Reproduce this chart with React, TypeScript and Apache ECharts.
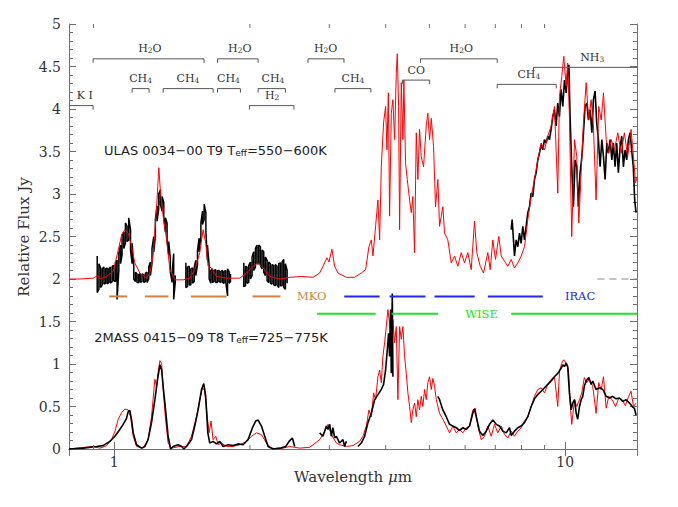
import React, { useEffect, useRef } from 'react';
import * as echarts from 'echarts';

// ---------- axis ranges / ticks ----------
const X_MIN = 0.794;
const X_MAX = 14.43;
const Y_MIN = 0;
const Y_MAX = 5;
const xMinorTicks = [0.9, 2, 3, 4, 5, 6, 7, 8, 9];

// ---------- ULAS 0034-00 (offset +2) ----------
const ulasModel: number[][] = [
  [0.794,2.00],[0.840,2.00],[0.898,2.01],[0.920,2.04],[0.930,2.00],[0.962,2.03],[0.995,2.09],[1.021,2.34],[1.039,2.52],[1.056,2.58],
  [1.074,2.54],[1.093,2.38],[1.111,2.19],[1.140,2.07],[1.180,2.01],[1.200,2.07],[1.220,2.27],[1.242,2.85],[1.256,3.31],[1.267,3.01],
  [1.284,2.74],[1.307,2.46],[1.329,2.11],[1.363,1.99],[1.422,1.99],[1.471,2.01],[1.509,2.11],[1.548,2.31],[1.575,2.58],[1.596,2.42],
  [1.615,2.15],[1.643,2.13],[1.686,2.03],[1.774,2.01],[1.899,2.01],[1.965,2.07],[2.032,2.15],[2.085,2.19],[2.138,2.13],[2.213,2.03],
  [2.328,2.00],[2.450,2.02],[2.601,2.03],[2.759,2.02],[2.855,2.07],[2.929,2.19],[2.963,2.25],[2.994,2.20],[3.040,2.35],[3.082,2.15],
  [3.135,2.07],[3.272,2.02],[3.413,2.02],[3.532,2.07],[3.610,2.11],[3.672,2.38],[3.717,2.46],[3.747,2.27],[3.799,2.62],[3.844,2.93],
  [3.878,2.46],[3.911,3.32],[3.957,3.84],[3.998,4.03],[4.025,3.52],[4.054,4.19],[4.080,2.74],[4.116,3.95],[4.150,4.11],[4.186,3.64],
  [4.222,4.42],[4.244,4.65],[4.272,4.03],[4.294,2.58],[4.331,4.31],[4.367,3.64],[4.389,4.34],[4.427,3.36],[4.466,3.17],[4.519,2.93],
  [4.558,2.78],[4.595,2.97],[4.635,2.31],[4.676,3.72],[4.714,3.17],[4.755,3.76],[4.796,3.44],[4.853,3.32],[4.920,3.80],[4.960,3.95],
  [5.004,3.64],[5.047,3.89],[5.107,3.56],[5.159,2.85],[5.220,3.17],[5.266,2.62],[5.355,2.85],[5.402,2.54],[5.493,2.46],[5.590,2.19],
  [5.684,2.27],[5.781,2.15],[5.882,2.31],[5.982,2.19],[6.084,2.31],[6.190,2.11],[6.295,2.68],[6.370,2.31],[6.481,2.15],[6.591,2.07],
  [6.737,2.31],[6.820,2.11],[6.911,2.46],[7.007,2.23],[7.126,2.50],[7.214,2.27],[7.336,2.21],[7.461,2.15],[7.591,2.23],[7.720,2.13],
  [7.851,2.19],[7.989,2.27],[8.125,2.38],[8.263,2.70],[8.407,2.97],[8.550,3.17],[8.695,3.40],[8.847,3.60],[8.997,3.52],[9.150,3.68],
  [9.310,3.80],[9.468,4.03],[9.629,3.01],[9.713,4.15],[9.828,4.38],[9.929,4.62],[10.05,4.27],[10.13,4.54],[10.22,3.91],[10.34,2.50],
  [10.49,3.64],[10.61,3.44],[10.72,2.66],[10.85,3.25],[10.98,3.84],[11.13,4.31],[11.28,3.87],[11.42,4.11],[11.55,3.80],[11.71,2.93],
  [11.87,4.03],[12.02,3.87],[12.16,4.19],[12.33,3.64],[12.49,3.48],[12.65,3.64],[12.86,3.52],[13.08,3.72],[13.31,3.48],[13.53,3.72],
  [13.76,3.44],[14.00,3.76],[14.17,3.44],[14.32,3.13],[14.43,3.20],
];

const ulasObsYJ: number[][] = [
  [0.917,2.27,1.84],[0.925,2.18,1.88],[0.933,2.13,1.90],[0.941,2.12,1.93],[0.949,2.14,1.94],[0.957,2.12,1.95],[0.965,2.13,1.94],
  [0.973,2.12,1.96],[0.981,2.14,1.95],[0.990,2.15,1.97],[0.998,2.16,1.98],[1.007,2.20,1.97],[1.015,2.22,1.76],[1.024,2.30,2.10],
  [1.033,2.40,2.18],[1.041,2.52,2.28],[1.050,2.55,2.36],[1.059,2.66,2.42],[1.068,2.62,2.44],[1.077,2.72,2.46],[1.087,2.58,2.34],
  [1.096,2.42,2.18],[1.105,2.16,2.00],[1.115,2.08,1.97],[1.124,2.06,1.96],[1.134,2.06,1.96],[1.143,2.05,1.96],[1.153,2.06,1.97],
  [1.163,2.05,1.96],[1.173,2.07,1.97],[1.183,2.08,1.96],[1.193,2.14,2.00],[1.203,2.20,2.04],[1.213,2.36,2.18],[1.224,2.50,2.32],
  [1.234,2.70,2.50],[1.245,2.86,2.68],[1.255,3.00,2.82],[1.266,3.05,2.88],[1.277,2.97,2.80],[1.288,2.90,2.72],[1.299,2.72,2.55],
  [1.310,2.66,2.46],[1.321,2.44,2.28],[1.332,2.24,2.08],[1.344,2.06,1.96],[1.355,2.30,1.76],[1.366,2.04,1.96],
];
const ulasObsH: number[][] = [
  [1.442,2.19,1.90],[1.454,2.14,1.91],[1.467,2.15,1.93],[1.479,2.12,1.93],[1.492,2.13,1.95],[1.505,2.14,1.97],[1.517,2.22,2.04],
  [1.530,2.33,2.16],[1.543,2.48,2.32],[1.557,2.66,2.50],[1.570,2.80,2.64],[1.583,2.88,2.70],[1.597,2.78,2.56],[1.610,2.40,2.22],
  [1.624,2.16,2.00],[1.638,2.10,1.95],[1.652,2.12,1.96],[1.666,2.10,1.97],[1.680,2.11,1.96],[1.695,2.10,1.96],[1.709,2.10,1.97],
  [1.724,2.09,1.96],[1.739,2.10,1.96],[1.753,2.09,1.95],[1.768,2.10,1.96],[1.784,2.12,1.80],[1.799,2.08,1.95],[1.811,2.06,1.97],
];
const ulasObsK: number[][] = [
  [1.938,2.19,1.91],[1.955,2.15,1.92],[1.971,2.14,1.95],[1.988,2.16,1.96],[2.005,2.20,2.00],[2.022,2.26,2.04],[2.039,2.32,2.10],
  [2.057,2.36,2.14],[2.074,2.40,2.18],[2.092,2.40,2.18],[2.110,2.38,2.16],[2.128,2.34,2.12],[2.146,2.32,2.08],[2.164,2.26,2.04],
  [2.183,2.22,1.98],[2.201,2.20,1.96],[2.220,2.18,1.95],[2.239,2.17,1.94],[2.258,2.16,1.93],[2.278,2.17,1.92],[2.297,2.15,1.93],
  [2.317,2.18,1.90],[2.337,2.19,1.92],[2.357,2.20,1.92],[2.377,2.23,1.90],[2.397,2.18,1.88],[2.418,2.10,1.95],
];
const ulasObsMir: number[][] = [
  [7.590,2.58],[7.629,2.70],[7.720,2.27],[7.786,2.46],[7.853,2.38],[7.920,2.54],[7.987,2.42],[8.055,2.62],[8.124,2.46],[8.193,2.62],
  [8.263,2.78],[8.334,2.85],[8.405,3.01],[8.476,2.97],[8.549,3.17],[8.622,3.25],[8.695,3.40],[8.770,3.48],[8.845,3.58],[8.920,3.52],
  [8.996,3.64],[9.073,3.60],[9.150,3.68],[9.228,3.64],[9.307,3.76],[9.386,3.91],[9.466,3.99],[9.547,3.80],[9.628,4.07],[9.711,3.91],
  [9.794,4.23],[9.880,4.03],[9.964,4.34],[10.05,4.19],[10.14,4.46],[10.19,4.52],[10.26,3.87],[10.34,3.32],[10.43,2.85],[10.52,3.40],
  [10.61,3.32],[10.70,2.85],[10.79,3.25],[10.89,3.44],[10.98,3.72],[11.07,4.03],[11.17,4.07],[11.26,3.87],[11.36,3.99],[11.46,3.72],
  [11.55,4.11],[11.65,4.21],[11.75,3.83],[11.85,3.64],[11.95,3.32],[12.06,3.64],[12.16,3.44],[12.26,3.17],[12.37,3.60],[12.47,3.48],
  [12.58,3.64],[12.69,3.40],[12.79,3.60],[12.90,3.32],[13.01,3.60],[13.12,3.25],[13.24,3.56],[13.35,3.68],[13.46,3.32],[13.58,3.52],
  [13.69,3.40],[13.81,3.64],[13.93,3.72],[14.04,3.52],[14.16,3.32],[14.26,2.93],[14.36,2.78],
];
const ulasZeroLevel: number[][] = [[11.79,2],[14.43,2]];

// ---------- 2MASS 0415-09 ----------
const bdModel: number[][] = [
  [0.794,0.00],[0.898,0.03],[0.930,0.01],[0.962,0.04],[0.987,0.11],[1.004,0.21],[1.021,0.35],[1.039,0.43],[1.056,0.47],[1.074,0.46],
  [1.087,0.38],[1.102,0.15],[1.121,0.03],[1.159,0.01],[1.189,0.11],[1.210,0.38],[1.231,0.82],[1.242,0.74],[1.252,0.91],[1.263,1.04],
  [1.274,1.01],[1.284,0.70],[1.300,0.35],[1.317,0.07],[1.340,0.01],[1.398,0.03],[1.447,0.03],[1.484,0.15],[1.522,0.38],[1.548,0.58],
  [1.570,0.72],[1.586,0.69],[1.602,0.46],[1.624,0.19],[1.640,0.33],[1.657,0.11],[1.680,0.15],[1.700,0.05],[1.729,0.07],[1.774,0.03],
  [1.835,0.03],[1.899,0.05],[1.965,0.09],[2.016,0.15],[2.068,0.19],[2.121,0.17],[2.176,0.07],[2.232,0.01],[2.328,0.00],[2.450,0.03],
  [2.578,0.01],[2.714,0.02],[2.855,0.11],[2.929,0.21],[2.979,0.29],[3.031,0.17],[3.109,0.07],[3.162,0.05],[3.272,0.03],[3.384,0.04],
  [3.502,0.09],[3.561,0.15],[3.623,0.27],[3.672,0.46],[3.717,0.38],[3.761,0.66],[3.799,0.58],[3.844,0.85],[3.878,0.93],[3.911,0.78],
  [3.943,1.09],[3.978,1.25],[4.012,1.44],[4.045,1.64],[4.080,1.48],[4.116,1.29],[4.150,1.52],[4.186,1.25],[4.222,1.44],[4.257,0.58],
  [4.294,1.44],[4.331,1.29],[4.367,1.44],[4.405,1.09],[4.443,0.89],[4.480,0.66],[4.519,0.50],[4.558,0.31],[4.595,0.46],[4.635,0.54],
  [4.676,0.38],[4.714,0.58],[4.755,0.46],[4.796,0.62],[4.836,0.50],[4.878,0.70],[4.920,0.58],[4.960,0.78],[5.004,0.85],[5.047,0.70],
  [5.089,0.83],[5.133,0.74],[5.178,0.58],[5.266,0.42],[5.355,0.35],[5.449,0.27],[5.542,0.19],[5.636,0.27],[5.734,0.19],[5.834,0.23],
  [5.932,0.19],[6.034,0.25],[6.137,0.27],[6.241,0.46],[6.318,0.48],[6.402,0.27],[6.514,0.11],[6.625,0.15],[6.737,0.27],[6.855,0.15],
  [6.971,0.29],[7.090,0.19],[7.214,0.27],[7.336,0.17],[7.461,0.13],[7.591,0.21],[7.720,0.15],[7.851,0.21],[7.989,0.25],[8.125,0.33],
  [8.263,0.38],[8.407,0.50],[8.550,0.62],[8.695,0.70],[8.847,0.72],[8.997,0.66],[9.150,0.76],[9.310,0.82],[9.468,0.85],[9.629,0.50],
  [9.713,0.91],[9.828,1.01],[9.929,1.05],[10.05,1.01],[10.17,0.93],[10.26,0.54],[10.34,0.29],[10.49,0.58],[10.61,0.50],[10.76,0.58],
  [10.88,0.66],[11.03,0.84],[11.16,0.78],[11.32,0.82],[11.51,0.74],[11.71,0.42],[11.87,0.78],[12.02,0.70],[12.16,0.85],[12.33,0.48],
  [12.49,0.62],[12.71,0.58],[12.93,0.50],[13.15,0.60],[13.38,0.58],[13.60,0.51],[13.83,0.62],[14.00,0.68],[14.17,0.50],[14.36,0.54],
];
const bdObsNir: number[][] = [
  [0.794,0.00],[0.854,0.01],[0.914,0.03],[0.945,0.04],[0.978,0.09],[1.004,0.15],[1.029,0.23],[1.047,0.29],[1.065,0.36],[1.074,0.44],
  [1.083,0.455],[1.093,0.34],[1.102,0.19],[1.121,0.05],[1.150,0.01],[1.170,0.03],[1.189,0.11],[1.210,0.31],[1.231,0.58],[1.248,0.82],
  [1.263,0.99],[1.274,0.93],[1.284,0.74],[1.300,0.46],[1.317,0.15],[1.334,0.00],[1.351,0.03],[1.386,0.05],[1.411,0.03],[1.427,0.00],
  [1.447,0.03],[1.484,0.11],[1.509,0.27],[1.535,0.46],[1.562,0.70],[1.580,0.77],[1.596,0.62],[1.613,0.19],[1.629,0.07],[1.657,0.09],
  [1.686,0.06],[1.715,0.09],[1.744,0.03],[1.789,0.05],[1.835,0.04],[1.883,0.06],[1.931,0.05],[1.981,0.11],[2.026,0.25],[2.060,0.33],
  [2.085,0.34],[2.121,0.27],[2.157,0.15],[2.194,0.03],[2.250,0.00],[2.328,0.01],[2.401,0.03],[2.442,0.09],[2.484,0.13],[2.514,0.03],
];
const bdObs3a: number[][] = [
  [2.855,0.19],[2.904,0.15],[2.955,0.27],[2.979,0.23],[3.005,0.29],[3.031,0.15],[3.055,0.25],[3.082,0.13],[3.109,0.15],[3.162,0.07],
  [3.216,0.11],[3.244,0.03],[3.272,0.09],
];
const bdObs3b: number[][] = [
  [3.471,0.03],[3.532,0.07],[3.592,0.15],[3.653,0.31],[3.717,0.42],[3.780,0.58],[3.844,0.64],[3.911,0.70],[3.957,0.76],[3.998,0.93],
  [4.033,1.17],[4.060,1.36],[4.080,1.09],[4.101,1.64],[4.116,0.89],[4.137,1.83],[4.150,0.85],
];
const bdObsMir: number[][] = [
  [5.220,0.62],[5.266,0.58],[5.355,0.46],[5.449,0.38],[5.542,0.29],[5.636,0.27],[5.734,0.25],[5.834,0.22],[5.932,0.25],[6.034,0.23],
  [6.137,0.27],[6.241,0.42],[6.295,0.47],[6.351,0.38],[6.458,0.21],[6.568,0.16],[6.682,0.21],[6.796,0.29],[6.911,0.34],[7.032,0.29],
  [7.151,0.27],[7.273,0.21],[7.400,0.19],[7.526,0.25],[7.591,0.16],[7.720,0.21],[7.851,0.25],[7.989,0.27],[8.125,0.31],[8.263,0.38],
  [8.407,0.50],[8.550,0.59],[8.695,0.64],[8.847,0.68],[8.997,0.72],[9.150,0.76],[9.310,0.80],[9.468,0.85],[9.629,0.89],[9.798,0.95],
  [9.878,0.99],[9.964,0.97],[10.05,1.01],[10.13,0.97],[10.22,0.66],[10.31,0.46],[10.39,0.54],[10.49,0.58],[10.58,0.42],[10.66,0.35],
  [10.76,0.50],[10.85,0.58],[10.94,0.62],[11.03,0.74],[11.13,0.80],[11.28,0.84],[11.42,0.76],[11.51,0.80],[11.71,0.70],[11.91,0.72],
  [12.12,0.70],[12.33,0.62],[12.54,0.60],[12.75,0.62],[12.97,0.59],[13.19,0.60],[13.42,0.56],[13.65,0.58],[13.89,0.54],[14.12,0.49],
  [14.24,0.48],[14.36,0.40],
];

// ---------- molecular band markers ----------
const bandNames = ['K I','H2O','H2O','H2O','CH4','CH4','CH4','CH4','H2','CH4','CO','H2O','CH4','NH3'];
const bandStart = [0.794,0.898,1.695,2.690,1.096,1.284,1.695,2.085,1.995,3.087,4.355,4.779,7.068,8.506];
const bandEnd   = [0.898,1.582,2.085,3.233,1.195,1.657,1.905,2.397,2.504,3.709,5.004,7.068,9.552,14.43];
const bandLevel = [4.04,4.59,4.59,4.59,4.24,4.24,4.24,4.24,4.04,4.24,4.34,4.59,4.29,4.49];
const bandLabelAt = [0.861,1.200,1.899,2.944,1.144,1.457,1.792,2.250,2.239,3.384,4.676,5.882,8.304,11.48];
const bandEnds = ['right','both','both','both','both','both','both','both','both','both','both','both','both','left'];

// ---------- filter bandpasses ----------
const filterNames = ['MKO','IRAC','WISE'];
const filterLevel = [1.795,1.795,1.59];
const filterLabelAt = [2.742,10.79,6.524];
const mkoBands = [[0.975,1.069],[1.170,1.319],[1.479,1.774],[2.026,2.337]];
const iracBands = [[3.237,3.877],[4.08,4.90],[5.13,6.30],[6.74,8.92]];
const wiseBands = [[2.817,3.80],[4.12,5.23],[7.59,16]];

// ---------- object labels ----------
const objectNames = ['ULAS 0034−00 T9 T','2MASS 0415−09 T8 T'];
const objectTeff = ['550−600K','725−775K'];
const objectAt = [[0.949,3.51],[0.903,1.31]];

const AXIS = '#707070';
const TEXT = '#333';
const FILTER_COLORS = ['#d8803e', '#2424ff', '#22e022'];

// noise band rows [λ, upper, lower] -> a trace that alternates between them
function bandTrace(rows: number[][]) {
  const out: number[][] = [];
  rows.forEach((r, i) => {
    if (i % 2 === 0) {
      out.push([r[0], r[1]], [r[0], r[2]]);
    } else {
      out.push([r[0], r[2]], [r[0], r[1]]);
    }
  });
  return out;
}

function richName(name: string) {
  let out = '';
  let buf = '';
  let isSub = false;
  for (const ch of name) {
    const sub = /[0-9]/.test(ch);
    if (buf && sub !== isSub) {
      out += `{${isSub ? 's' : 'm'}|${buf}}`;
      buf = '';
    }
    isSub = sub;
    buf += ch;
  }
  if (buf) out += `{${isSub ? 's' : 'm'}|${buf}}`;
  return out;
}

const bandRich = {
  m: { fontFamily: 'DejaVu Serif', fontSize: 11, fill: TEXT, lineHeight: 12 },
  s: { fontFamily: 'DejaVu Serif', fontSize: 7.5, fill: TEXT, lineHeight: 8, padding: [9, 0, 0, 0], verticalAlign: 'bottom' },
};

function lineSeries(data: number[][], color: string, width: number, z: number) {
  return {
    type: 'line',
    data,
    showSymbol: false,
    symbol: 'none',
    silent: true,
    z,
    lineStyle: { color, width },
  };
}

export default function App() {
  const ref = useRef<HTMLDivElement>(null);
  useEffect(() => {
    const chart = echarts.init(ref.current as HTMLDivElement, null, { renderer: 'svg' });

    const filterData: number[][] = [];
    [mkoBands, iracBands, wiseBands].forEach((bands, g) => {
      bands.forEach((b) => filterData.push([b[0], filterLevel[g], b[1], g]));
    });

    const xAxisBase = {
      type: 'log',
      logBase: 10,
      min: X_MIN,
      max: X_MAX,
      gridIndex: 0,
      splitLine: { show: false },
      axisLine: { show: true, lineStyle: { color: AXIS, width: 1 } },
      axisTick: { show: true, inside: true, length: 7, lineStyle: { color: AXIS } },
    };
    const yAxisBase = {
      type: 'value',
      min: Y_MIN,
      max: Y_MAX,
      interval: 0.5,
      splitLine: { show: false },
      axisLine: { show: true, lineStyle: { color: AXIS, width: 1 } },
      axisTick: { show: true, inside: true, length: 7, lineStyle: { color: AXIS } },
      minorTick: { show: true, splitNumber: 5, length: 4, lineStyle: { color: AXIS } },
    };

    const option: any = {
      animation: false,
      backgroundColor: '#fff',
      grid: { left: 69, right: 41, top: 24, bottom: 58, containLabel: false },
      xAxis: [
        {
          ...xAxisBase,
          position: 'bottom',
          axisLabel: {
            show: true,
            showMinLabel: false,
            showMaxLabel: false,
            margin: 6,
            fontFamily: 'DejaVu Serif',
            fontSize: 14,
            color: TEXT,
            formatter: (v: number) => (Math.abs(v - 1) < 1e-6 ? '1' : Math.abs(v - 10) < 1e-6 ? '10' : ''),
          },
        },
        { ...xAxisBase, position: 'top', axisLabel: { show: false } },
      ],
      yAxis: [
        {
          ...yAxisBase,
          position: 'left',
          axisLabel: { show: true, margin: 8, fontFamily: 'DejaVu Serif', fontSize: 14, color: TEXT },
        },
        { ...yAxisBase, position: 'right', axisLabel: { show: false } },
      ],
      graphic: [
        {
          type: 'text',
          x: 353,
          y: 477,
          style: {
            text: '{n|Wavelength }{i|μ}{n|m}',
            align: 'center',
            verticalAlign: 'middle',
            rich: {
              n: { fontFamily: 'DejaVu Serif', fontSize: 15, fill: TEXT },
              i: { fontFamily: 'DejaVu Serif', fontSize: 15, fontStyle: 'italic', fill: TEXT },
            },
          },
        },
        {
          type: 'text',
          x: 24,
          y: 237,
          rotation: Math.PI / 2,
          style: {
            text: 'Relative Flux Jy',
            align: 'center',
            verticalAlign: 'middle',
            fontFamily: 'DejaVu Serif',
            fontSize: 15,
            fill: TEXT,
          },
        },
      ],
      series: [
        // minor ticks of the log axis (top and bottom)
        {
          type: 'custom',
          silent: true,
          clip: false,
          z: 5,
          data: xMinorTicks.map((v) => [v, 0]),
          renderItem: (params: any, api: any) => {
            const cs = params.coordSys;
            const x = api.coord([api.value(0), 0])[0];
            const top = cs.y;
            const bottom = cs.y + cs.height;
            return {
              type: 'group',
              children: [
                { type: 'line', shape: { x1: x, y1: bottom, x2: x, y2: bottom - 4 }, style: { stroke: AXIS, lineWidth: 1 } },
                { type: 'line', shape: { x1: x, y1: top, x2: x, y2: top + 4 }, style: { stroke: AXIS, lineWidth: 1 } },
              ],
            };
          },
        },
        // spectra
        lineSeries(bdModel, '#ff0000', 1, 2),
        lineSeries(bdObsNir, '#000000', 1.6, 3),
        lineSeries(bdObs3a, '#000000', 1.6, 3),
        lineSeries(bdObs3b, '#000000', 1.6, 3),
        lineSeries(bdObsMir, '#000000', 1.6, 3),
        lineSeries(bandTrace(ulasObsYJ), '#000000', 1.5, 2),
        lineSeries(bandTrace(ulasObsH), '#000000', 1.5, 2),
        lineSeries(bandTrace(ulasObsK), '#000000', 1.5, 2),
        lineSeries(ulasObsMir, '#000000', 1.6, 2),
        lineSeries(ulasModel, '#ff0000', 1, 3),
        {
          ...lineSeries(ulasZeroLevel, '#8a8a8a', 1.2, 2),
          lineStyle: { color: '#8a8a8a', width: 1.2, type: [7, 5] },
        },
        // filter bandpasses
        {
          type: 'custom',
          silent: true,
          clip: false,
          z: 4,
          data: filterData,
          renderItem: (params: any, api: any) => {
            const cs = params.coordSys;
            const p1 = api.coord([api.value(0), api.value(1)]);
            const p2 = api.coord([api.value(2), api.value(1)]);
            const x2 = Math.min(p2[0], cs.x + cs.width);
            return {
              type: 'line',
              shape: { x1: p1[0], y1: p1[1], x2, y2: p1[1] },
              style: { stroke: FILTER_COLORS[api.value(3)], lineWidth: 2 },
            };
          },
        },
        // filter labels
        {
          type: 'custom',
          silent: true,
          clip: false,
          z: 4,
          data: filterNames.map((_, i) => [filterLabelAt[i], filterLevel[i], i]),
          renderItem: (params: any, api: any) => {
            const i = api.value(2);
            const p = api.coord([api.value(0), api.value(1)]);
            return {
              type: 'text',
              x: p[0],
              y: p[1],
              style: {
                text: filterNames[i],
                align: 'center',
                verticalAlign: 'middle',
                fontFamily: 'DejaVu Serif',
                fontSize: 11.5,
                fill: FILTER_COLORS[i],
              },
            };
          },
        },
        // molecular band brackets
        {
          type: 'custom',
          silent: true,
          clip: false,
          z: 4,
          data: bandNames.map((_, i) => [bandStart[i], bandLevel[i], bandEnd[i], bandLabelAt[i], i]),
          renderItem: (params: any, api: any) => {
            const cs = params.coordSys;
            const i = api.value(4);
            const p1 = api.coord([api.value(0), api.value(1)]);
            const p2 = api.coord([api.value(2), api.value(1)]);
            const x1 = Math.max(p1[0], cs.x);
            const x2 = Math.min(p2[0], cs.x + cs.width);
            const y = p1[1];
            const pts: number[][] = [];
            const ends = bandEnds[i];
            if (ends === 'both' || ends === 'left') pts.push([x1, y + 4]);
            pts.push([x1, y], [x2, y]);
            if (ends === 'both' || ends === 'right') pts.push([x2, y + 4]);
            const lx = api.coord([api.value(3), api.value(1)])[0];
            return {
              type: 'group',
              children: [
                { type: 'polyline', shape: { points: pts }, style: { stroke: '#555', lineWidth: 1, fill: null } },
                {
                  type: 'text',
                  x: lx,
                  y: y - 4,
                  style: {
                    text: richName(bandNames[i]),
                    align: 'center',
                    verticalAlign: 'bottom',
                    rich: bandRich,
                  },
                },
              ],
            };
          },
        },
        // object names
        {
          type: 'custom',
          silent: true,
          clip: false,
          z: 4,
          data: objectNames.map((_, i) => [objectAt[i][0], objectAt[i][1], i]),
          renderItem: (params: any, api: any) => {
            const i = api.value(2);
            const p = api.coord([api.value(0), api.value(1)]);
            return {
              type: 'text',
              x: p[0],
              y: p[1],
              style: {
                text: `{b|${objectNames[i]}}{e|eff}{b|=${objectTeff[i]}}`,
                align: 'left',
                verticalAlign: 'middle',
                rich: {
                  b: { fontFamily: 'DejaVu Sans', fontSize: 13, fill: '#222', lineHeight: 14 },
                  e: { fontFamily: 'DejaVu Sans', fontSize: 9, fill: '#222', lineHeight: 9, padding: [10, 0, 0, 0], verticalAlign: 'bottom' },
                },
              },
            };
          },
        },
      ],
    };

    chart.setOption(option);
    return () => chart.dispose();
  }, []);

  return (
    <div
      ref={ref}
      style={{ position: 'fixed', left: 0, top: 0, width: 678, height: 507, background: '#fff' }}
    />
  );
}
